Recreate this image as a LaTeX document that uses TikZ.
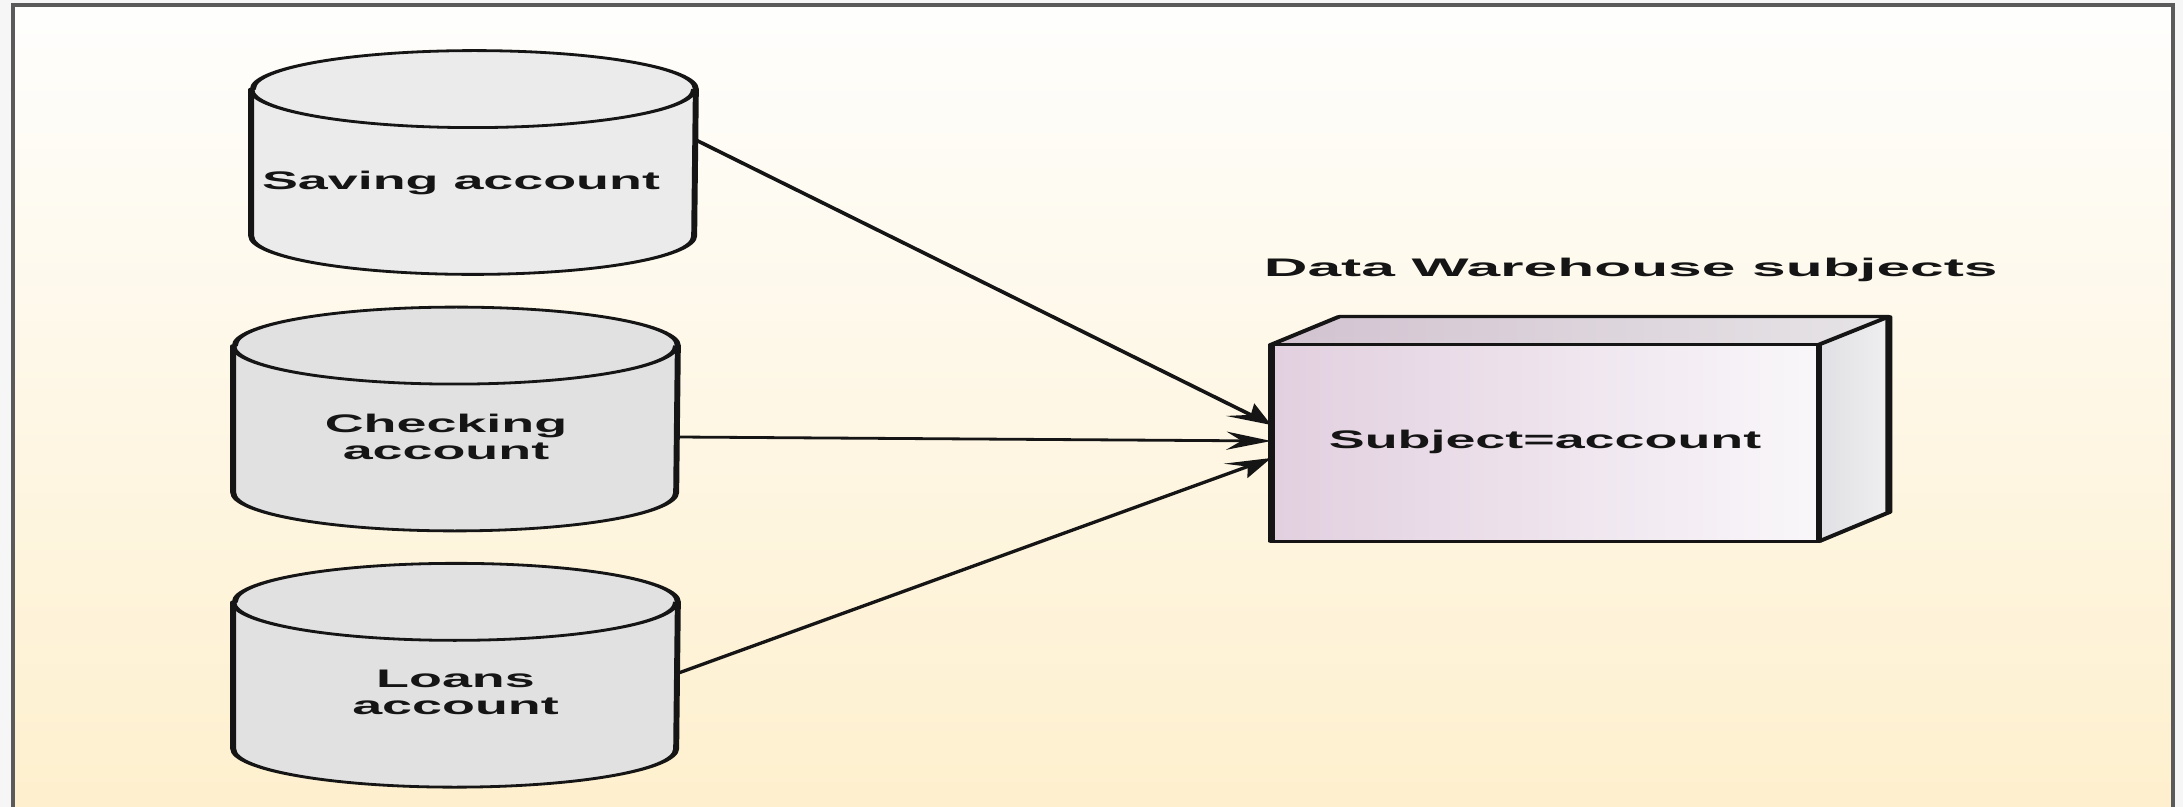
\documentclass[tikz,border=0pt]{standalone}
\usepackage{fontspec}
\newfontfamily\bodyfont{Liberation Sans}
\newfontfamily\titlefnt[FakeStretch=1.123]{Liberation Sans}
\usetikzlibrary{arrows.meta}
\pgfdeclarelayer{back}
\pgfdeclarelayer{mid}
\pgfsetlayers{back,mid,main}
\definecolor{framec}{HTML}{5A5A5A}
\definecolor{outsidec}{HTML}{F6F6F6}
\definecolor{bgtop}{HTML}{FEFEFD}
\definecolor{bgbot}{HTML}{FEF0CE}
\definecolor{inkc}{HTML}{151515}
\definecolor{cylA}{HTML}{EBEBEB}
\definecolor{cylB}{HTML}{E1E1E1}
\definecolor{frontL}{HTML}{E2CFDF}
\definecolor{frontR}{HTML}{F9F7FA}
\definecolor{topL}{HTML}{D2C2D0}
\definecolor{topR}{HTML}{E6E4E6}
\definecolor{sideL}{HTML}{E0E0E4}
\definecolor{sideR}{HTML}{EFEFF1}
\begin{document}
\begin{tikzpicture}[x=0.5pt,y=0.5pt,
  stretched/.style={transform canvas={xscale=2.12}, x=0.235849pt, y=0.5pt},
  cylnode/.style={minimum width=104.48pt, minimum height=73pt, inner sep=0pt,
    align=center, font=\bodyfont\bfseries\fontsize{12.7pt}{13.5pt}\selectfont, text=inkc},
  boxnode/.style={minimum width=128.77pt, minimum height=98pt, inner sep=0pt,
    font=\bodyfont\bfseries\fontsize{12.7pt}{13.5pt}\selectfont, text=inkc},
  titlenode/.style={inner sep=0pt, font=\titlefnt\bfseries\fontsize{12.7pt}{13.5pt}\selectfont, text=inkc},
  cylline/.style={draw=inkc, line width=1.4pt, line join=round},
  boxline/.style={draw=inkc, line width=1.6pt, line join=round},
  arr/.style={draw=inkc, line width=1.4pt, -{Stealth[length=10.5pt,width=9pt,inset=3.5pt]}}
]
\useasboundingbox (0,0) rectangle (2183,-807);

% background and frame
\begin{pgfonlayer}{back}
  \fill[outsidec] (0,0) rectangle (2183,-807);
  \shade[top color=bgtop, bottom color=bgbot] (13,-5) rectangle (2173,-807);
  \draw[framec, line width=2pt] (13,-840) -- (13,-5) -- (2173,-5) -- (2173,-840);
\end{pgfonlayer}

% nodes and connectors (horizontally stretched, as in the reference)
\begin{scope}[stretched]
  \node[cylnode, text height=50.25pt, text depth=22.75pt] (c1) at (473.5,-162.5) {Saving account\hspace*{5.9pt}};
  \node[cylnode, text height=56.5pt, text depth=16.5pt] (c2) at (455.5,-419) {Checking\hspace*{4.5pt}\\account\hspace*{4.5pt}};
  \node[cylnode, text height=56.25pt, text depth=16.75pt] (c3) at (455.5,-675.25) {Loans\\account};
  \node[boxnode, text height=51.5pt, text depth=46.5pt] (box) at (1545,-443) {Subject=account};
  \node[titlenode, anchor=base west] (title) at (1263,-277) {Data Warehouse subjects};

  \draw[arr] ([yshift=11.25pt]c1.east) -- ([yshift=9pt]box.west);
  \draw[arr] ([yshift=-9pt]c2.east) -- ([yshift=1pt]box.west);
  \draw[arr] ([yshift=1pt]c3.east) -- ([yshift=-7.5pt]box.west);
\end{scope}

% cylinders and box shapes
\begin{pgfonlayer}{mid}
\begin{scope}[stretched]
  \foreach \n/\f in {c1/cylA, c2/cylB, c3/cylB} {
    \filldraw[cylline, fill=\f] (\n.north west) -- (\n.south west)
      arc[start angle=180, end angle=360, x radius=52.24pt, y radius=19.25pt]
      -- (\n.north east)
      arc[start angle=0, end angle=180, x radius=52.24pt, y radius=19.25pt] -- cycle;
    \draw[cylline] (\n.north west)
      arc[start angle=180, end angle=360, x radius=52.24pt, y radius=19.25pt];
  }
  \shade[left color=frontL, right color=frontR] (box.south west) rectangle (box.north east);
  \shade[left color=topL, right color=topR] (box.north west) -- ([shift={(16.04pt,14pt)}]box.north west)
    -- ([shift={(16.5pt,14pt)}]box.north east) -- (box.north east) -- cycle;
  \shade[left color=sideL, right color=sideR] (box.north east) -- ([shift={(16.5pt,14pt)}]box.north east)
    -- ([shift={(16.5pt,14.5pt)}]box.south east) -- (box.south east) -- cycle;
  \draw[boxline] (box.south west) rectangle (box.north east);
  \draw[boxline] (box.north west) -- ([shift={(16.04pt,14pt)}]box.north west)
    -- ([shift={(16.5pt,14pt)}]box.north east) -- ([shift={(16.5pt,14.5pt)}]box.south east) -- (box.south east);
  \draw[boxline] (box.north east) -- ([shift={(16.5pt,14pt)}]box.north east);
\end{scope}
\end{pgfonlayer}
\end{tikzpicture}
\end{document}
